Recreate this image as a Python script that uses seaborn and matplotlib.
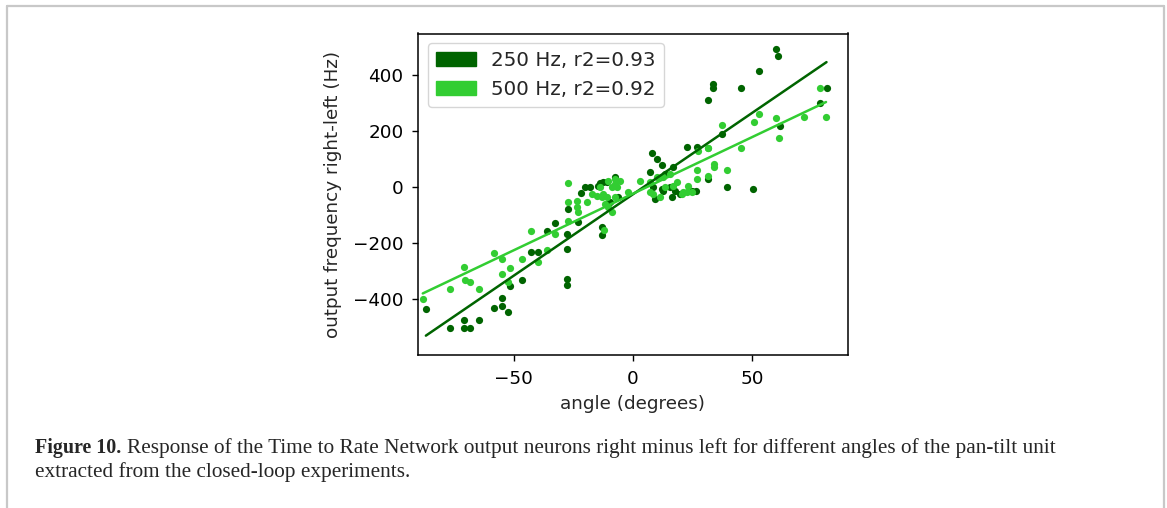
import numpy as np
import pandas as pd
import seaborn as sns
import matplotlib
matplotlib.use("Agg")
import matplotlib.pyplot as plt
from matplotlib.patches import Patch
from matplotlib.lines import Line2D

# 250 Hz run (dark green)
angle_250 = [-86.7, -76.6, -70.6, -70.6, -68.2, -64.3, -58.3, -54.7, -54.7, -52.4, -51.5, -46.6, -42.7, -39.6, -36.1, -32.6,
             -27.3, -27.5, -27.5, -27.5, -27.5, -22.9, -21.9, -20.1, -18.0, -14.5, -13.8, -12.4, -11.0, -7.5, -13.1, -13.1, -11.0, -9.6, -6.1,
             7.1, 8.1, 9.9, 12.0, 12.7, 13.4, 15.5, 16.2, 16.9, 17.6, 19.7, 9.2, 22.5, 24.5, 26.9, 26.4, 31.2, 39.2, 50.3, 37.4,
             31.5, 33.6, 33.6, 45.0, 52.9, 59.7, 60.6, 61.5, 78.2, 81.0, 8.5, 12.0]
freq_250 = [-437, -502, -474, -502, -502, -476, -431, -395, -424, -445, -353, -331, -233, -231, -157, -129,
            -77, -166, -220, -327, -351, -125, -21, 0, 0, 6, 14, 18, 18, 36, -143, -172, -59, -53, -36,
            54, 121, 101, 80, -12, 48, 0, -36, 71, -12, -24, -41, 145, -12, 143, -12, 30, 0, -6, 191,
            313, 369, 354, 355, 417, 494, 468, 220, 301, 355, 0, -6]

# 500 Hz run (light green)
angle_500 = [-88.0, -76.6, -70.8, -70.3, -68.2, -64.3, -58.2, -54.7, -54.7, -52.4, -51.5, -46.4, -42.7, -39.6, -36.1, -32.6,
             -27.3, -27.3, -27.3, -23.6, -23.6, -22.9, -19.4, -17.3, -15.2, -13.8, -13.1, -11.0, -11.7, -12.1, -8.9, -10.5, -7.5,
             -7.5, -6.8, -8.9, -10.3, -7.5, -12.4, -2.0, -5.4,
             2.9, 7.1, 9.9, 12.7, 15.5, 18.3, 8.5, 11.3, 13.4, 16.9, 20.4, 22.5, 23.2, 7.1, 21.0, 24.7,
             26.7, 27.3, 31.5, 33.9, 33.9, 39.2, 31.5, 26.7, 31.5, 45.2, 37.1, 50.6, 52.9, 59.7, 61.2, 71.5, 80.8, 78.2]
freq_500 = [-398, -365, -287, -331, -338, -365, -234, -255, -309, -340, -288, -256, -156, -266, -224, -167,
            16, -53, -119, -48, -71, -89, -54, -24, -30, 0, -36, -36, -59, -152, -89, -71, 30,
            12, 0, 0, 24, -36, -24, -18, 24,
            24, 18, 36, 36, 48, 18, -24, -36, 0, 6, -24, -18, 6, -18, -18, -18,
            60, 131, 42, 83, 71, 63, 141, 30, 141, 141, 223, 232, 262, 247, 176, 250, 250, 355]

labels = ["250 Hz, r2=0.93", "500 Hz, r2=0.92"]
colors = ["#006400", "#32CD32"]

df250 = pd.DataFrame({"angle": angle_250, "freq": freq_250})
df500 = pd.DataFrame({"angle": angle_500, "freq": freq_500})

sns.set_style("ticks")
plt.rcParams["font.family"] = ["DejaVu Sans"]

W, H = 1167, 508
fig = plt.figure(figsize=(W / 100, H / 100), dpi=100)
ax = fig.add_axes([418 / W, 1 - 355 / H, 430 / W, 321.5 / H])

for d, c in zip([df250, df500], colors):
    sns.regplot(data=d, x="angle", y="freq", ax=ax, ci=None, color=c,
                scatter_kws={"s": 27, "alpha": 1, "linewidths": 0},
                line_kws={"lw": 1.8})

ax.set_xlim(-90, 90)
ax.set_ylim(-600, 550)
ax.set_xticks([-50, 0, 50])
ax.set_yticks([-400, -200, 0, 200, 400])
ax.set_xlabel("angle (degrees)", fontsize=13.2, labelpad=5)
ax.set_ylabel("output frequency right-left (Hz)", fontsize=13.2, labelpad=8)
ax.tick_params(labelsize=13.2, color="black", labelcolor="black", width=1, length=4.5, pad=6)
for s in ax.spines.values():
    s.set_color("black")
    s.set_linewidth(1.1)
    s.set_visible(True)

handles = [Patch(color=c) for c in colors]
ax.legend(handles, labels, loc="upper left", fontsize=14.3, frameon=True,
          borderaxespad=0.5, handlelength=2.0)

# page frame
frame_kw = dict(color="#c8c8c8", lw=1.6, transform=fig.transFigure)
top = 1 - 5.5 / H
fig.add_artist(Line2D([7 / W, 1164 / W], [top, top], **frame_kw))
fig.add_artist(Line2D([7 / W, 7 / W], [0, top], **frame_kw))
fig.add_artist(Line2D([1164 / W, 1164 / W], [0, top], **frame_kw))

# caption
cap_font = ["Liberation Serif", "DejaVu Serif"]
cap_size = 15.35
y1 = 1 - 453 / H
y2 = 1 - 477 / H
fig.canvas.draw()
r = fig.canvas.get_renderer()
t1 = fig.text(35 / W, y1, "Figure 10.", fontsize=14.4, fontweight="bold",
              family=cap_font, va="baseline")
x_start = t1.get_window_extent(r).x1 + 6
fig.text(x_start / W, y1,
         "Response of the Time to Rate Network output neurons right minus left "
         "for different angles of the pan-tilt unit",
         fontsize=cap_size, family=cap_font, va="baseline")
fig.text(35 / W, y2, "extracted from the closed-loop experiments.",
         fontsize=cap_size, family=cap_font, va="baseline")

fig.savefig("out.png", dpi=100)
